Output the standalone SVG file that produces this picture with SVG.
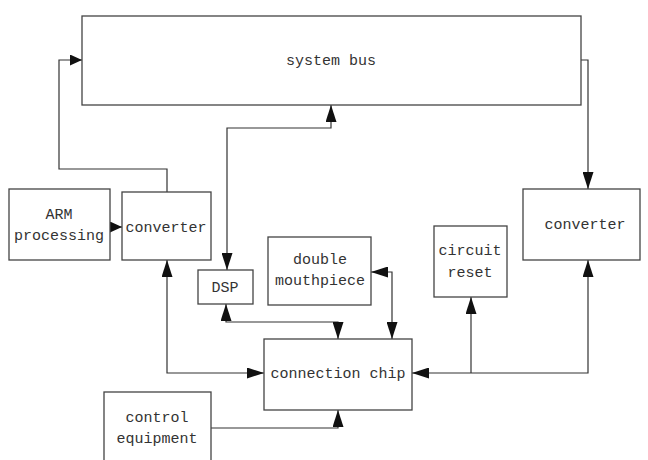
<svg xmlns="http://www.w3.org/2000/svg" width="648" height="460" viewBox="0 0 648 460">
<style>
.box{fill:#fff;stroke:#444;stroke-width:1.3}
.lbl{font-family:"Liberation Mono",monospace;font-size:15px;fill:#333;text-anchor:middle}
.c{fill:none;stroke:#333;stroke-width:1.2}
</style>
<defs>
<marker id="ah" markerUnits="userSpaceOnUse" markerWidth="17" markerHeight="11" refX="17" refY="5.5" orient="auto-start-reverse">
<path d="M0,0 L17,5.5 L0,11 z" fill="#111"/>
</marker>
<marker id="ahs" markerUnits="userSpaceOnUse" markerWidth="12" markerHeight="11" refX="12" refY="5.5" orient="auto-start-reverse">
<path d="M0,0 L12,5.5 L0,11 z" fill="#111"/>
</marker>
</defs>
<rect width="648" height="460" fill="#fff"/>
<g id="connectors">
<path class="c" d="M167,192 V169 H59 V60 H82" marker-end="url(#ahs)"/>
<path class="c" d="M227,270 V128 H331 V105" marker-start="url(#ah)" marker-end="url(#ah)"/>
<path class="c" d="M581,60 H588 V189" marker-end="url(#ah)"/>
<path class="c" d="M110,227 H122" marker-end="url(#ahs)"/>
<path class="c" d="M167,260 V373 H264" marker-start="url(#ah)" marker-end="url(#ah)"/>
<path class="c" d="M226,304 V322 H338 V339" marker-start="url(#ah)" marker-end="url(#ah)"/>
<path class="c" d="M371,272 H392 V339" marker-start="url(#ah)" marker-end="url(#ah)"/>
<path class="c" d="M412,373 H588 V260" marker-start="url(#ah)" marker-end="url(#ah)"/>
<path class="c" d="M471,373 V297" marker-end="url(#ah)"/>
<path class="c" d="M211,428 H338 V410" marker-end="url(#ah)"/>
</g>
<g id="system-bus"><rect class="box" x="82" y="16" width="499" height="89"/><text class="lbl" x="331" y="65">system bus</text></g>
<g id="arm"><rect class="box" x="9" y="189" width="101" height="71"/><text class="lbl" x="59" y="219">ARM</text><text class="lbl" x="59" y="240">processing</text></g>
<g id="converter-left"><rect class="box" x="122" y="192" width="89" height="68"/><text class="lbl" x="166" y="232">converter</text></g>
<g id="dsp"><rect class="box" x="198" y="270" width="55" height="34"/><text class="lbl" x="225" y="292">DSP</text></g>
<g id="double-mouthpiece"><rect class="box" x="268" y="237" width="103" height="68"/><text class="lbl" x="320" y="264">double</text><text class="lbl" x="320" y="285">mouthpiece</text></g>
<g id="circuit-reset"><rect class="box" x="434" y="226" width="73" height="71"/><text class="lbl" x="470" y="255">circuit</text><text class="lbl" x="470" y="277">reset</text></g>
<g id="converter-right"><rect class="box" x="523" y="189" width="117" height="71"/><text class="lbl" x="585" y="229">converter</text></g>
<g id="connection-chip"><rect class="box" x="264" y="339" width="148" height="71"/><text class="lbl" x="338" y="378">connection chip</text></g>
<g id="control-equipment"><rect class="box" x="104" y="392" width="107" height="80"/><text class="lbl" x="157" y="422">control</text><text class="lbl" x="157" y="443">equipment</text></g>
</svg>
